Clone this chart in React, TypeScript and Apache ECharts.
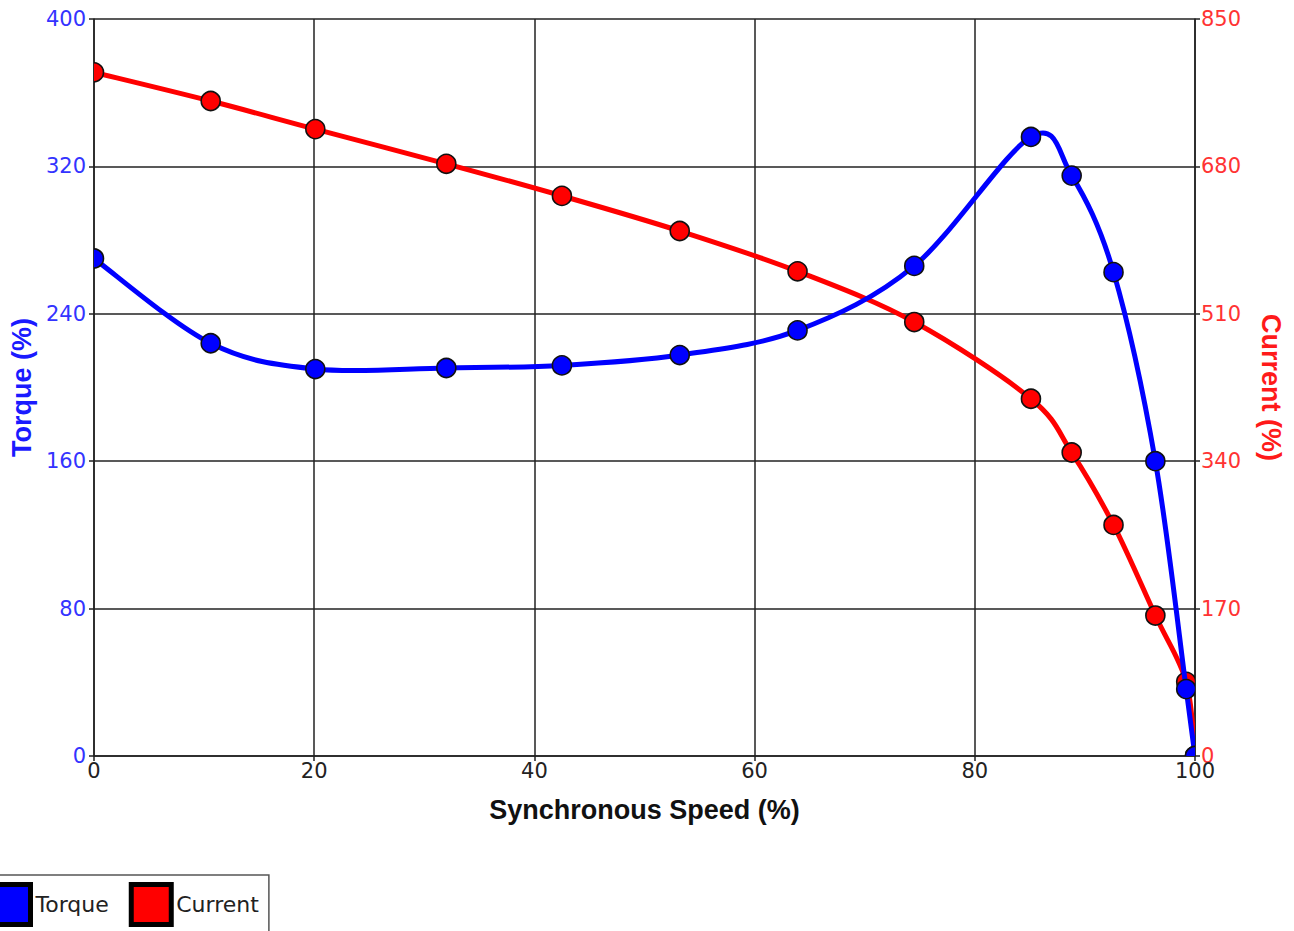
import React, { useEffect, useRef } from "react";
import * as echarts from "echarts";

const speed = [0, 10.6, 20.1, 32, 42.5, 53.2, 63.9, 74.5, 85.1, 88.8, 92.6, 96.4, 99.2, 100];
const torque = [270, 224, 210, 210.6, 212, 217.6, 231, 266, 336, 315, 262.6, 160, 36.3, 0];
const current = [788.5, 755.4, 723, 683, 646, 605.5, 559, 500.5, 412, 350, 266.5, 162, 85.5, 0];

const xTicks = { min: 0, max: 100, interval: 20 };
const torqueTicks = { min: 0, max: 400, interval: 80 };
const currentTicks = { min: 0, max: 850, interval: 170 };

const BLUE = "#0000ff";
const RED = "#ff0000";
const GRID = "#222";

function pairs(xs: number[], ys: number[]) {
  return xs.map((x, i) => [x, ys[i]]);
}

// cardinal spline (tension 0.5) through pixel points
function splinePath(pts: number[][]) {
  const n = pts.length;
  const k = 0.5 / 3;
  let d = `M${pts[0][0]},${pts[0][1]}`;
  for (let i = 0; i < n - 1; i++) {
    const p0 = pts[Math.max(i - 1, 0)];
    const p1 = pts[i];
    const p2 = pts[i + 1];
    const p3 = pts[Math.min(i + 2, n - 1)];
    const c1x = p1[0] + (p2[0] - p0[0]) * k;
    const c1y = p1[1] + (p2[1] - p0[1]) * k;
    const c2x = p2[0] - (p3[0] - p1[0]) * k;
    const c2y = p2[1] - (p3[1] - p1[1]) * k;
    d += ` C${c1x},${c1y} ${c2x},${c2y} ${p2[0]},${p2[1]}`;
  }
  return d;
}

function curveSeries(name: string, data: number[][], yAxisIndex: number, color: string) {
  return {
    type: "custom",
    name,
    yAxisIndex,
    clip: true,
    encode: { x: 0, y: 1 },
    data,
    renderItem: (params: any, api: any) => {
      const p = api.coord([api.value(0), api.value(1)]);
      const circle = {
        type: "circle",
        shape: { cx: p[0], cy: p[1], r: 9.5 },
        style: { fill: color, stroke: "#111", lineWidth: 1.6 },
      };
      if (params.dataIndex === 0) {
        const pts = data.map((d) => api.coord(d));
        return {
          type: "group",
          children: [
            {
              type: "path",
              shape: { pathData: splinePath(pts) },
              style: { fill: "none", stroke: color, lineWidth: 5, lineJoin: "round" },
            },
            circle,
          ],
        };
      }
      return circle;
    },
  };
}

export default function App() {
  const ref = useRef<HTMLDivElement>(null);
  useEffect(() => {
    if (!ref.current) return;
    const chart = echarts.init(ref.current, null, { renderer: "svg" });
    const tickLabel = { fontFamily: "DejaVu Sans", fontSize: 21 };
    const axisLine = { show: true, lineStyle: { color: GRID, width: 1.5 } };
    const axisTick = { show: true, length: 5, lineStyle: { color: GRID, width: 1.5 } };
    const titleStyle = { fontFamily: "Liberation Sans", fontSize: 27, fontWeight: "bold" };
    chart.setOption({
      animation: false,
      backgroundColor: "#fff",
      grid: { left: 94, right: 99, top: 19, bottom: 175, containLabel: false },
      legend: {
        data: [
          { name: "Torque", itemStyle: { color: BLUE, borderColor: "#000", borderWidth: 5 } },
          { name: "Current", itemStyle: { color: RED, borderColor: "#000", borderWidth: 5 } },
        ],
        icon: "rect",
        left: -17,
        top: 875,
        orient: "horizontal",
        itemWidth: 40,
        itemHeight: 40,
        itemGap: 20,
        itemTextGap: 4,
        padding: [7, 10, 5, 5],
        borderColor: "#555",
        borderWidth: 1.5,
        backgroundColor: "#fff",
        textStyle: { fontFamily: "DejaVu Sans", fontSize: 22, color: "#222" },
        selectedMode: false,
      },
      xAxis: {
        type: "value",
        ...xTicks,
        axisLine,
        axisTick,
        axisLabel: { ...tickLabel, color: "#222", margin: 4 },
        splitLine: { show: true, lineStyle: { color: GRID, width: 1.5 } },
        name: "Synchronous Speed (%)",
        nameLocation: "middle",
        nameGap: 40,
        nameTextStyle: { ...titleStyle, color: "#111" },
      },
      yAxis: [
        {
          type: "value",
          position: "left",
          ...torqueTicks,
          axisLine,
          axisTick,
          axisLabel: { ...tickLabel, color: "#3333ff", margin: 8 },
          splitLine: { show: true, lineStyle: { color: GRID, width: 1.5 } },
          name: "Torque (%)",
          nameLocation: "middle",
          nameGap: 56,
          nameTextStyle: { ...titleStyle, color: "#1a1aff" },
        },
        {
          type: "value",
          position: "right",
          ...currentTicks,
          axisLine,
          axisTick,
          axisLabel: { ...tickLabel, color: "#ff3333", margin: 6 },
          splitLine: { show: false },
          name: "Current (%)",
          nameLocation: "middle",
          nameRotate: -90,
          nameGap: 62,
          nameTextStyle: { ...titleStyle, color: "#ff1a1a" },
        },
      ],
      series: [
        curveSeries("Current", pairs(speed, current), 1, RED),
        curveSeries("Torque", pairs(speed, torque), 0, BLUE),
      ],
    });
    return () => chart.dispose();
  }, []);
  return (
    <div
      ref={ref}
      style={{ position: "absolute", left: 0, top: 0, width: 1294, height: 931 }}
    />
  );
}
